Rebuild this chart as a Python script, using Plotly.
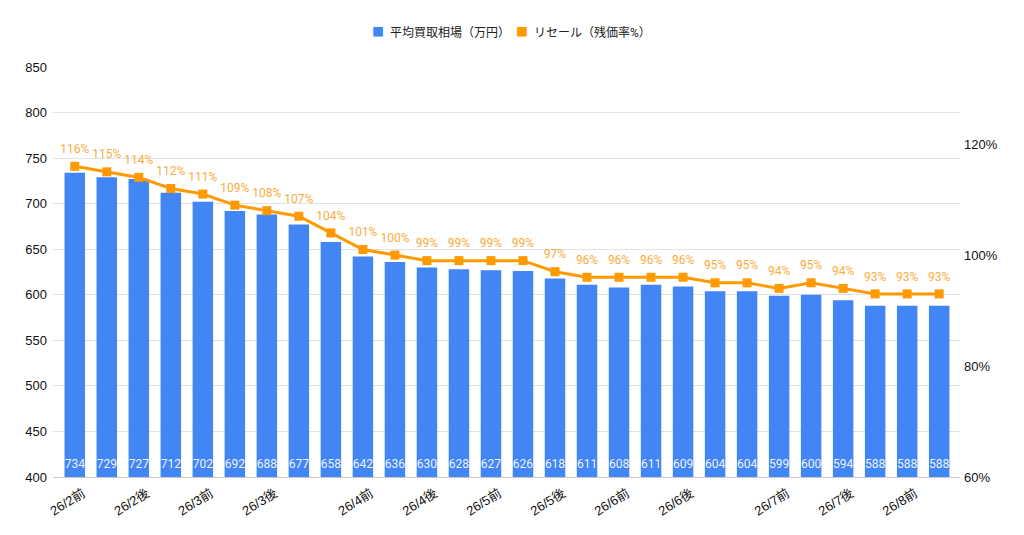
import plotly.graph_objects as go

# x labels: only every few categories is labelled on the axis
categories = ["26/2前", "", "26/2後", "", "26/3前", "", "26/3後", "", "", "26/4前",
              "", "26/4後", "", "26/5前", "", "26/5後", "", "26/6前", "", "26/6後",
              "", "", "26/7前", "", "26/7後", "", "26/8前", ""]
price = [734, 729, 727, 712, 702, 692, 688, 677, 658, 642, 636, 630, 628, 627,
         626, 618, 611, 608, 611, 609, 604, 604, 599, 600, 594, 588, 588, 588]
resale = [116, 115, 114, 112, 111, 109, 108, 107, 104, 101, 100, 99, 99, 99,
          99, 97, 96, 96, 96, 96, 95, 95, 94, 95, 94, 93, 93, 93]
right_ticks = [60, 80, 100, 120]
left_ticks = [400, 450, 500, 550, 600, 650, 700, 750, 800, 850]

bar_name = "平均買取相場（万円）"
line_name = "リセール（残価率%）"
blue = "#4285F4"
orange = "#FF9900"
font_family = "Roboto, Noto Sans CJK JP, Arial"
tick_family = "Arial, Liberation Sans, Noto Sans CJK JP"

y_min, y_max = 400, 850

idx = list(range(len(price)))
tick_pos = [i for i, c in enumerate(categories) if c]
tick_txt = [c for c in categories if c]

fig = go.Figure()

fig.add_trace(go.Bar(
    x=idx, y=price, name=bar_name, marker=dict(color=blue, line=dict(width=0)),
    hoverinfo="y", showlegend=False,
))

# value labels sit at the foot of each bar (the axis starts at 400, not 0)
# an invisible marker is used only to lift the text a little off the baseline
fig.add_trace(go.Scatter(
    x=idx, y=[y_min] * len(price), mode="markers+text", showlegend=False, hoverinfo="skip",
    marker=dict(size=8, opacity=0),
    text=[str(v) for v in price], textposition="top center",
    textfont=dict(color="#eef3fe", size=12, family=font_family),
))

fig.add_trace(go.Scatter(
    x=idx, y=resale, yaxis="y2", mode="lines+markers", name=line_name, showlegend=False,
    line=dict(color=orange, width=3), marker=dict(symbol="square", size=9, color=orange),
    hoverinfo="y",
))

# percentage labels, pushed a bit higher above the squares than plotly's default
fig.add_trace(go.Scatter(
    x=idx, y=resale, yaxis="y2", mode="markers+text", showlegend=False, hoverinfo="skip",
    marker=dict(size=15, opacity=0),
    text=[f"{v}%" for v in resale], textposition="top center",
    textfont=dict(color="#F9AB40", size=12, family=font_family),
))

# compact legend like the Google Sheets one (native legend spacing is too wide)
nb = "\u00a0"
legend_text = (f'<span style="color:{blue}">■</span>{nb}{nb}{bar_name}{nb}{nb}'
               f'<span style="color:{orange}">■</span>{nb}{nb}{line_name}')
fig.add_annotation(text=legend_text, xref="paper", yref="paper", x=0.505, y=1.083,
                   xanchor="center", yanchor="middle", showarrow=False,
                   font=dict(size=12, color="#222222", family=font_family))

# page has an 8px body margin, so the figure is shrunk to fit the window
fig.update_layout(
    width=1016, height=527,
    plot_bgcolor="white", paper_bgcolor="white",
    font=dict(family=font_family, size=12, color="#222222"),
    margin=dict(l=45, r=64, t=59, b=58, autoexpand=False),
    bargap=0.36,
    showlegend=False,
    xaxis=dict(tickmode="array", tickvals=tick_pos, ticktext=tick_txt, tickangle=-32,
               range=[-0.68, len(price) - 0.35], showgrid=False, showline=True,
               linecolor="#c8c8c8", linewidth=1, ticks="", ticklabelshift=8, ticklabelstandoff=3,
               automargin=False,
               tickfont=dict(size=13, color="#111111", family=tick_family)),
    yaxis=dict(range=[y_min, y_max], tickvals=left_ticks, showgrid=True, gridcolor="#e2e2e2",
               zeroline=False, ticks="", ticklabelstandoff=5, automargin=False,
               tickfont=dict(size=13, color="#111111", family=tick_family)),
    yaxis2=dict(range=[60, 133.9], overlaying="y", side="right", tickvals=right_ticks,
                ticktext=[f"{t}%" for t in right_ticks], showgrid=False, zeroline=False,
                ticks="", ticklabelstandoff=3, automargin=False,
                tickfont=dict(size=13, color="#111111", family=tick_family)),
)

fig.write_html("out.html")
